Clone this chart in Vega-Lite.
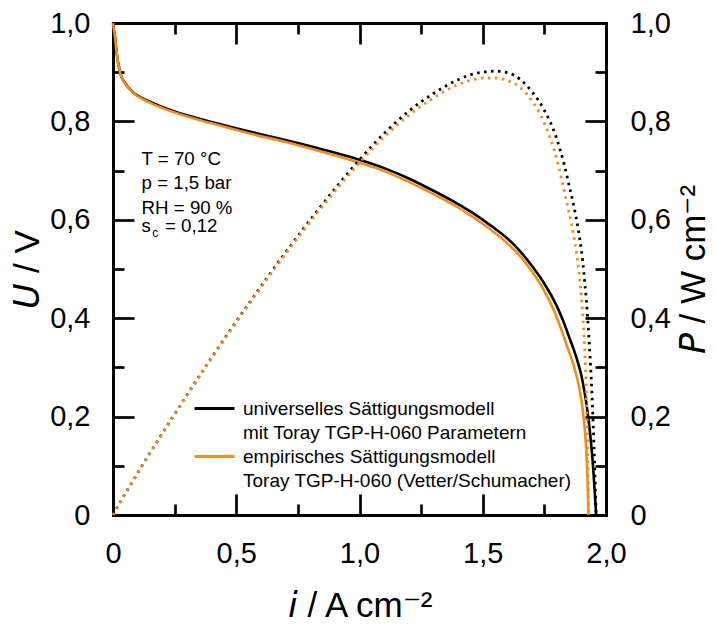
{
  "$schema": "https://vega.github.io/schema/vega-lite/v6.json",
  "width": 493,
  "height": 492,
  "autosize": {"type": "none"},
  "padding": {"left": 113, "top": 23, "right": 109, "bottom": 122},
  "background": "white",
  "config": {
    "view": {"stroke": null},
    "font": "Liberation Sans",
    "axis": {
      "grid": false,
      "labelFont": "Liberation Sans",
      "labelFontSize": 29,
      "labelColor": "black",
      "titleFont": "Liberation Sans",
      "titleFontSize": 35,
      "titleFontWeight": "normal",
      "titleColor": "black",
      "domainColor": "black",
      "domainWidth": 3,
      "domainCap": "square",
      "tickColor": "black",
      "tickWidth": 2.7,
      "labelFlush": false,
      "labelOverlap": false,
      "labelBound": false
    }
  },
  "datasets": {
    "curves": [
      {"i": 0, "U": 1.0, "P": 0, "s": "universelles Sättigungsmodell"},
      {"i": 0.004, "U": 0.985, "P": 0.0039, "s": "universelles Sättigungsmodell"},
      {"i": 0.008, "U": 0.972, "P": 0.0078, "s": "universelles Sättigungsmodell"},
      {"i": 0.015, "U": 0.938, "P": 0.0141, "s": "universelles Sättigungsmodell"},
      {"i": 0.028, "U": 0.901, "P": 0.0252, "s": "universelles Sättigungsmodell"},
      {"i": 0.05, "U": 0.877, "P": 0.0439, "s": "universelles Sättigungsmodell"},
      {"i": 0.08, "U": 0.86, "P": 0.0688, "s": "universelles Sättigungsmodell"},
      {"i": 0.15, "U": 0.84, "P": 0.126, "s": "universelles Sättigungsmodell"},
      {"i": 0.25, "U": 0.82, "P": 0.205, "s": "universelles Sättigungsmodell"},
      {"i": 0.4, "U": 0.799, "P": 0.3196, "s": "universelles Sättigungsmodell"},
      {"i": 0.55, "U": 0.78, "P": 0.429, "s": "universelles Sättigungsmodell"},
      {"i": 0.7, "U": 0.762, "P": 0.5334, "s": "universelles Sättigungsmodell"},
      {"i": 0.85, "U": 0.743, "P": 0.6316, "s": "universelles Sättigungsmodell"},
      {"i": 1.0, "U": 0.722, "P": 0.722, "s": "universelles Sättigungsmodell"},
      {"i": 1.1, "U": 0.705, "P": 0.7755, "s": "universelles Sättigungsmodell"},
      {"i": 1.2, "U": 0.684, "P": 0.8208, "s": "universelles Sättigungsmodell"},
      {"i": 1.3, "U": 0.659, "P": 0.8567, "s": "universelles Sättigungsmodell"},
      {"i": 1.4, "U": 0.632, "P": 0.8848, "s": "universelles Sättigungsmodell"},
      {"i": 1.45, "U": 0.617, "P": 0.8947, "s": "universelles Sättigungsmodell"},
      {"i": 1.5, "U": 0.6, "P": 0.9, "s": "universelles Sättigungsmodell"},
      {"i": 1.55, "U": 0.582, "P": 0.9021, "s": "universelles Sättigungsmodell"},
      {"i": 1.6, "U": 0.562, "P": 0.8992, "s": "universelles Sättigungsmodell"},
      {"i": 1.65, "U": 0.537, "P": 0.8861, "s": "universelles Sättigungsmodell"},
      {"i": 1.7, "U": 0.506, "P": 0.8602, "s": "universelles Sättigungsmodell"},
      {"i": 1.75, "U": 0.47, "P": 0.8225, "s": "universelles Sättigungsmodell"},
      {"i": 1.8, "U": 0.425, "P": 0.765, "s": "universelles Sättigungsmodell"},
      {"i": 1.83, "U": 0.39, "P": 0.7137, "s": "universelles Sättigungsmodell"},
      {"i": 1.854, "U": 0.357, "P": 0.6619, "s": "universelles Sättigungsmodell"},
      {"i": 1.86, "U": 0.349, "P": 0.6491, "s": "universelles Sättigungsmodell"},
      {"i": 1.87, "U": 0.335, "P": 0.6265, "s": "universelles Sättigungsmodell"},
      {"i": 1.88, "U": 0.32, "P": 0.6016, "s": "universelles Sättigungsmodell"},
      {"i": 1.89, "U": 0.303, "P": 0.5727, "s": "universelles Sättigungsmodell"},
      {"i": 1.9, "U": 0.284, "P": 0.5396, "s": "universelles Sättigungsmodell"},
      {"i": 1.91, "U": 0.258, "P": 0.4928, "s": "universelles Sättigungsmodell"},
      {"i": 1.92, "U": 0.228, "P": 0.4378, "s": "universelles Sättigungsmodell"},
      {"i": 1.93, "U": 0.19, "P": 0.3667, "s": "universelles Sättigungsmodell"},
      {"i": 1.94, "U": 0.143, "P": 0.2774, "s": "universelles Sättigungsmodell"},
      {"i": 1.948, "U": 0.095, "P": 0.1851, "s": "universelles Sättigungsmodell"},
      {"i": 1.954, "U": 0.05, "P": 0.0977, "s": "universelles Sättigungsmodell"},
      {"i": 1.96, "U": 0, "P": 0, "s": "universelles Sättigungsmodell"},
      {"i": 0, "U": 1.0, "P": 0, "s": "empirisches Sättigungsmodell"},
      {"i": 0.004, "U": 0.985, "P": 0.0039, "s": "empirisches Sättigungsmodell"},
      {"i": 0.008, "U": 0.972, "P": 0.0078, "s": "empirisches Sättigungsmodell"},
      {"i": 0.015, "U": 0.938, "P": 0.0141, "s": "empirisches Sättigungsmodell"},
      {"i": 0.028, "U": 0.9, "P": 0.0252, "s": "empirisches Sättigungsmodell"},
      {"i": 0.05, "U": 0.876, "P": 0.0438, "s": "empirisches Sättigungsmodell"},
      {"i": 0.08, "U": 0.859, "P": 0.0687, "s": "empirisches Sättigungsmodell"},
      {"i": 0.15, "U": 0.838, "P": 0.1257, "s": "empirisches Sättigungsmodell"},
      {"i": 0.25, "U": 0.818, "P": 0.2045, "s": "empirisches Sättigungsmodell"},
      {"i": 0.4, "U": 0.796, "P": 0.3184, "s": "empirisches Sättigungsmodell"},
      {"i": 0.55, "U": 0.776, "P": 0.4268, "s": "empirisches Sättigungsmodell"},
      {"i": 0.7, "U": 0.758, "P": 0.5306, "s": "empirisches Sättigungsmodell"},
      {"i": 0.85, "U": 0.738, "P": 0.6273, "s": "empirisches Sättigungsmodell"},
      {"i": 1.0, "U": 0.716, "P": 0.716, "s": "empirisches Sättigungsmodell"},
      {"i": 1.1, "U": 0.699, "P": 0.7689, "s": "empirisches Sättigungsmodell"},
      {"i": 1.2, "U": 0.677, "P": 0.8124, "s": "empirisches Sättigungsmodell"},
      {"i": 1.3, "U": 0.652, "P": 0.8476, "s": "empirisches Sättigungsmodell"},
      {"i": 1.4, "U": 0.625, "P": 0.875, "s": "empirisches Sättigungsmodell"},
      {"i": 1.45, "U": 0.609, "P": 0.8831, "s": "empirisches Sättigungsmodell"},
      {"i": 1.5, "U": 0.592, "P": 0.888, "s": "empirisches Sättigungsmodell"},
      {"i": 1.55, "U": 0.573, "P": 0.8882, "s": "empirisches Sättigungsmodell"},
      {"i": 1.6, "U": 0.552, "P": 0.8832, "s": "empirisches Sättigungsmodell"},
      {"i": 1.65, "U": 0.527, "P": 0.8696, "s": "empirisches Sättigungsmodell"},
      {"i": 1.7, "U": 0.495, "P": 0.8415, "s": "empirisches Sättigungsmodell"},
      {"i": 1.75, "U": 0.455, "P": 0.7963, "s": "empirisches Sättigungsmodell"},
      {"i": 1.8, "U": 0.402, "P": 0.7236, "s": "empirisches Sättigungsmodell"},
      {"i": 1.82, "U": 0.375, "P": 0.6825, "s": "empirisches Sättigungsmodell"},
      {"i": 1.84, "U": 0.346, "P": 0.6366, "s": "empirisches Sättigungsmodell"},
      {"i": 1.86, "U": 0.318, "P": 0.5915, "s": "empirisches Sättigungsmodell"},
      {"i": 1.87, "U": 0.302, "P": 0.5647, "s": "empirisches Sättigungsmodell"},
      {"i": 1.88, "U": 0.284, "P": 0.5339, "s": "empirisches Sättigungsmodell"},
      {"i": 1.89, "U": 0.262, "P": 0.4952, "s": "empirisches Sättigungsmodell"},
      {"i": 1.9, "U": 0.234, "P": 0.4446, "s": "empirisches Sättigungsmodell"},
      {"i": 1.91, "U": 0.195, "P": 0.3725, "s": "empirisches Sättigungsmodell"},
      {"i": 1.917, "U": 0.155, "P": 0.2971, "s": "empirisches Sättigungsmodell"},
      {"i": 1.922, "U": 0.11, "P": 0.2114, "s": "empirisches Sättigungsmodell"},
      {"i": 1.926, "U": 0.06, "P": 0.1156, "s": "empirisches Sättigungsmodell"},
      {"i": 1.929, "U": 0, "P": 0, "s": "empirisches Sättigungsmodell"}
    ],
    "ann": [
      {"i": 0.116, "U": 0.7114, "t": "T = 70 °C"},
      {"i": 0.116, "U": 0.6626, "t": "p = 1,5 bar"},
      {"i": 0.116, "U": 0.6118, "t": "RH = 90 %"},
      {"i": 0.116, "U": 0.5758, "t": "s"},
      {"i": 0.211, "U": 0.5758, "t": "= 0,12"}
    ],
    "sub": [
      {"i": 0.159, "U": 0.5657, "t": "c"}
    ]
  },
  "resolve": {
    "scale": {"x": "independent", "y": "independent"},
    "axis": {"x": "independent", "y": "independent"}
  },
  "layer": [
    {
      "data": {"name": "curves"},
      "mark": {"type": "line", "strokeWidth": 2.6, "interpolate": "monotone"},
      "encoding": {
        "x": {
          "field": "i", "type": "quantitative",
          "scale": {"domain": [0, 2], "nice": false, "zero": false},
          "axis": {
            "orient": "bottom", "values": [0, 0.5, 1, 1.5, 2], "ticks": false,
            "labelPadding": 24,
            "labelExpr": "datum.value == 0 ? '0' : replace(format(datum.value, '.1f'), '.', ',')",
            "title": "𝘪 / A cm⁻²", "titlePadding": 20
          }
        },
        "y": {
          "field": "U", "type": "quantitative",
          "scale": {"domain": [0, 1], "nice": false, "zero": false},
          "axis": {
            "orient": "left", "values": [0, 0.2, 0.4, 0.6, 0.8, 1], "ticks": false,
            "labelPadding": 23,
            "labelExpr": "datum.value == 0 ? '0' : replace(format(datum.value, '.1f'), '.', ',')",
            "title": "𝘜 / V", "titlePadding": 4
          }
        },
        "color": {
          "field": "s", "type": "nominal",
          "scale": {
            "domain": ["universelles Sättigungsmodell", "mit Toray TGP-H-060 Parametern", "empirisches Sättigungsmodell", "Toray TGP-H-060 (Vetter/Schumacher)"],
            "range": ["#000000", "transparent", "#EF8D1E", "transparent"]
          },
          "legend": {
            "title": null, "orient": "none", "legendX": 92, "legendY": 376,
            "padding": 0, "direction": "vertical", "columns": 1,
            "symbolType": "M-4,0H4", "symbolSize": 100, "symbolStrokeWidth": 3,
            "labelFont": "Liberation Sans", "labelFontSize": 19, "labelColor": "black",
            "labelOffset": 19, "labelLimit": 500, "rowPadding": 4
          }
        }
      }
    },
    {
      "data": {"name": "curves"},
      "mark": {"type": "line", "strokeWidth": 2.8, "strokeDash": [2.5, 4.5], "strokeCap": "butt", "interpolate": "monotone"},
      "encoding": {
        "x": {
          "field": "i", "type": "quantitative",
          "scale": {"domain": [0, 2], "nice": false, "zero": false},
          "axis": {
            "orient": "top", "values": [0, 0.25, 0.5, 0.75, 1, 1.25, 1.5, 1.75, 2],
            "labels": false, "title": null, "domain": true,
            "tickSize": {"condition": {"test": "abs(datum.value*2 - round(datum.value*2)) < 0.001", "value": -21}, "value": -11}
          }
        },
        "y": {
          "field": "P", "type": "quantitative",
          "scale": {"domain": [0, 1], "nice": false, "zero": false},
          "axis": {
            "orient": "right", "values": [0, 0.2, 0.4, 0.6, 0.8, 1], "ticks": false,
            "labelPadding": 24,
            "labelExpr": "datum.value == 0 ? '0' : replace(format(datum.value, '.1f'), '.', ',')",
            "title": "𝘗 / W cm⁻²", "titleAngle": 270, "titleBaseline": "top", "titlePadding": 6
          }
        },
        "color": {"field": "s", "type": "nominal", "legend": null}
      }
    },
    {
      "data": {"name": "ann"},
      "mark": {"type": "text", "align": "left", "baseline": "alphabetic", "font": "Liberation Sans", "fontSize": 18.7, "color": "black"},
      "encoding": {
        "x": {
          "field": "i", "type": "quantitative",
          "scale": {"domain": [0, 2], "nice": false, "zero": false},
          "axis": {
            "orient": "bottom", "values": [0, 0.25, 0.5, 0.75, 1, 1.25, 1.5, 1.75, 2],
            "labels": false, "title": null, "domain": false,
            "tickSize": {"condition": {"test": "abs(datum.value*2 - round(datum.value*2)) < 0.001", "value": -21}, "value": -11}
          }
        },
        "y": {
          "field": "U", "type": "quantitative",
          "scale": {"domain": [0, 1], "nice": false, "zero": false},
          "axis": {
            "orient": "left", "values": [0, 0.1, 0.2, 0.3, 0.4, 0.5, 0.6, 0.7, 0.8, 0.9, 1],
            "labels": false, "title": null, "domain": false,
            "tickSize": {"condition": {"test": "abs(datum.value*5 - round(datum.value*5)) < 0.001", "value": -21}, "value": -11}
          }
        },
        "text": {"field": "t", "type": "nominal"}
      }
    },
    {
      "data": {"name": "sub"},
      "mark": {"type": "text", "align": "left", "baseline": "alphabetic", "font": "Liberation Sans", "fontSize": 12, "color": "black"},
      "encoding": {
        "x": {
          "field": "i", "type": "quantitative",
          "scale": {"domain": [0, 2], "nice": false, "zero": false},
          "axis": null
        },
        "y": {
          "field": "U", "type": "quantitative",
          "scale": {"domain": [0, 1], "nice": false, "zero": false},
          "axis": {
            "orient": "right", "values": [0, 0.1, 0.2, 0.3, 0.4, 0.5, 0.6, 0.7, 0.8, 0.9, 1],
            "labels": false, "title": null, "domain": false,
            "tickSize": {"condition": {"test": "abs(datum.value*5 - round(datum.value*5)) < 0.001", "value": -21}, "value": -11}
          }
        },
        "text": {"field": "t", "type": "nominal"}
      }
    }
  ]
}
